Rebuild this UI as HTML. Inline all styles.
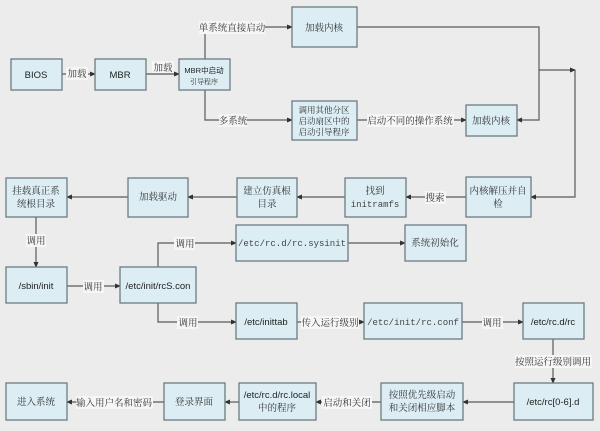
<!DOCTYPE html>
<html><head><meta charset="utf-8"><style>
html,body{margin:0;padding:0;background:#ececec;}
svg{display:block;}
.b{fill:#dceef4;stroke:#6c7b82;stroke-width:1.3;}
.l{stroke:#5a5a5a;stroke-width:1.2;fill:none;}
.t{font-family:"Liberation Serif","Noto Serif CJK SC",serif;font-size:9.5px;fill:#333;text-anchor:middle;}
.s{font-family:"Liberation Sans","Noto Sans CJK SC",sans-serif;font-size:9.5px;fill:#222;text-anchor:middle;}
.m{font-family:"Liberation Mono","Noto Serif CJK SC",monospace;font-size:9px;fill:#444;text-anchor:middle;}
.lb{fill:#f6f6f6;}
</style></head><body>
<svg width="600" height="431" viewBox="0 0 600 431" xmlns="http://www.w3.org/2000/svg">
<defs><marker id="a" markerWidth="6" markerHeight="6" refX="5" refY="3" orient="auto" markerUnits="userSpaceOnUse"><path d="M0,0.5 L6,3 L0,5.5z" fill="#333"/></marker></defs>
<rect width="600" height="431" fill="#ececec"/>
<!-- lines -->
<line class="l" x1="62" y1="74" x2="95" y2="74" marker-end="url(#a)"/>
<line class="l" x1="146" y1="74" x2="179" y2="74" marker-end="url(#a)"/>
<polyline class="l" points="205,59 205,27 292,27" marker-end="url(#a)"/>
<polyline class="l" points="205,90 205,120 292,120" marker-end="url(#a)"/>
<line class="l" x1="357" y1="120" x2="466" y2="120" marker-end="url(#a)"/>
<polyline class="l" points="357,27 539,27 539,120 517,120" marker-end="url(#a)"/>
<polyline class="l" points="539,70 575,70" marker-end="url(#a)"/>
<polyline class="l" points="575,70 575,197 531,197" marker-end="url(#a)"/>
<line class="l" x1="466" y1="197" x2="406" y2="197" marker-end="url(#a)"/>
<line class="l" x1="345" y1="197" x2="297" y2="197" marker-end="url(#a)"/>
<line class="l" x1="237" y1="197" x2="188" y2="197" marker-end="url(#a)"/>
<line class="l" x1="128" y1="197" x2="67" y2="197" marker-end="url(#a)"/>
<line class="l" x1="36" y1="217" x2="36" y2="267" marker-end="url(#a)"/>
<line class="l" x1="67" y1="286" x2="120" y2="286" marker-end="url(#a)"/>
<polyline class="l" points="158,267 158,243 236,243" marker-end="url(#a)"/>
<polyline class="l" points="158,303 158,322 236,322" marker-end="url(#a)"/>
<line class="l" x1="348" y1="243" x2="405" y2="243" marker-end="url(#a)"/>
<line class="l" x1="297" y1="322" x2="364" y2="322" marker-end="url(#a)"/>
<line class="l" x1="462" y1="322" x2="523" y2="322" marker-end="url(#a)"/>
<line class="l" x1="553" y1="339" x2="553" y2="383" marker-end="url(#a)"/>
<line class="l" x1="514" y1="402" x2="463" y2="402" marker-end="url(#a)"/>
<line class="l" x1="381" y1="402" x2="316" y2="402" marker-end="url(#a)"/>
<line class="l" x1="239" y1="402" x2="225" y2="402" marker-end="url(#a)"/>
<line class="l" x1="164" y1="402" x2="67" y2="402" marker-end="url(#a)"/>
<!-- labels -->
<rect class="lb" x="66" y="67" width="22" height="13"/><text class="t" x="77" y="77">加载</text>
<rect class="lb" x="152" y="61" width="22" height="12"/><text class="t" x="163" y="71">加载</text>
<rect class="lb" x="199" y="21" width="66" height="13"/><text class="t" x="232" y="31">单系统直接启动</text>
<rect class="lb" x="219" y="114" width="28" height="13"/><text class="t" x="233" y="124">多系统</text>
<rect class="lb" x="367" y="114" width="87" height="13"/><text class="t" x="410" y="124">启动不同的操作系统</text>
<rect class="lb" x="425" y="191" width="21" height="13"/><text class="t" x="435" y="201">搜索</text>
<rect class="lb" x="26" y="234" width="20" height="13"/><text class="t" x="36" y="244">调用</text>
<rect class="lb" x="83" y="280" width="21" height="13"/><text class="t" x="93" y="290">调用</text>
<rect class="lb" x="174" y="237" width="21" height="13"/><text class="t" x="185" y="247">调用</text>
<rect class="lb" x="177" y="316" width="21" height="13"/><text class="t" x="188" y="326">调用</text>
<rect class="lb" x="301" y="316" width="58" height="13"/><text class="t" x="330" y="326">传入运行级别</text>
<rect class="lb" x="482" y="316" width="21" height="13"/><text class="t" x="492" y="326">调用</text>
<rect class="lb" x="515" y="355" width="77" height="13"/><text class="t" x="553" y="365">按照运行级别调用</text>
<rect class="lb" x="322" y="396" width="50" height="13"/><text class="t" x="347" y="406">启动和关闭</text>
<rect class="lb" x="76" y="396" width="77" height="13"/><text class="t" x="114" y="406">输入用户名和密码</text>
<!-- boxes -->
<rect class="b" x="11" y="59" width="51" height="31"/><text class="s" x="36" y="78">BIOS</text>
<rect class="b" x="95" y="59" width="51" height="31"/><text class="s" x="120" y="78">MBR</text>
<rect class="b" x="179" y="59" width="51" height="31"/><text class="s" x="204" y="73" style="font-size:7.5px">MBR中启动</text><text class="t" x="204" y="84" style="font-size:7px">引导程序</text>
<rect class="b" x="292" y="7" width="65" height="40"/><text class="t" x="324" y="31">加载内核</text>
<rect class="b" x="292" y="101" width="65" height="39"/><text class="t" x="324" y="113" style="font-size:8.5px">调用其他分区</text><text class="t" x="324" y="124" style="font-size:8.5px">启动扇区中的</text><text class="t" x="324" y="135" style="font-size:8.5px">启动引导程序</text>
<rect class="b" x="466" y="105" width="51" height="31"/><text class="t" x="491" y="124">加载内核</text>
<rect class="b" x="466" y="177" width="65" height="40"/><text class="t" x="498" y="194">内核解压并自</text><text class="t" x="498" y="207">检</text>
<rect class="b" x="345" y="178" width="61" height="39"/><text class="t" x="375" y="194">找到</text><text class="m" x="375" y="207">initramfs</text>
<rect class="b" x="237" y="178" width="60" height="39"/><text class="t" x="267" y="194">建立仿真根</text><text class="t" x="267" y="207">目录</text>
<rect class="b" x="128" y="178" width="60" height="39"/><text class="t" x="158" y="200">加载驱动</text>
<rect class="b" x="6" y="178" width="61" height="39"/><text class="t" x="36" y="194">挂载真正系</text><text class="t" x="36" y="207">统根目录</text>
<rect class="b" x="6" y="267" width="61" height="36"/><text class="s" x="36" y="289">/sbin/init</text>
<rect class="b" x="120" y="267" width="76" height="36"/><text class="s" x="158" y="289">/etc/init/rcS.con</text>
<rect class="b" x="236" y="225" width="112" height="36"/><text class="m" x="292" y="246">/etc/rc.d/rc.sysinit</text>
<rect class="b" x="405" y="225" width="61" height="36"/><text class="t" x="435" y="246">系统初始化</text>
<rect class="b" x="236" y="303" width="61" height="36"/><text class="s" x="266" y="325">/etc/inittab</text>
<rect class="b" x="364" y="303" width="98" height="36"/><text class="m" x="413" y="325">/etc/init/rc.conf</text>
<rect class="b" x="523" y="303" width="61" height="36"/><text class="s" x="553" y="325">/etc/rc.d/rc</text>
<rect class="b" x="514" y="383" width="79" height="37"/><text class="s" x="553" y="405">/etc/rc[0-6].d</text>
<rect class="b" x="381" y="383" width="82" height="37"/><text class="t" x="422" y="398">按照优先级启动</text><text class="t" x="422" y="411">和关闭相应脚本</text>
<rect class="b" x="239" y="383" width="77" height="37"/><text class="s" x="277" y="398">/etc/rc.d/rc.local</text><text class="t" x="277" y="411">中的程序</text>
<rect class="b" x="164" y="383" width="61" height="37"/><text class="t" x="194" y="405">登录界面</text>
<rect class="b" x="6" y="383" width="61" height="37"/><text class="t" x="36" y="405">进入系统</text>
</svg>
</body></html>
